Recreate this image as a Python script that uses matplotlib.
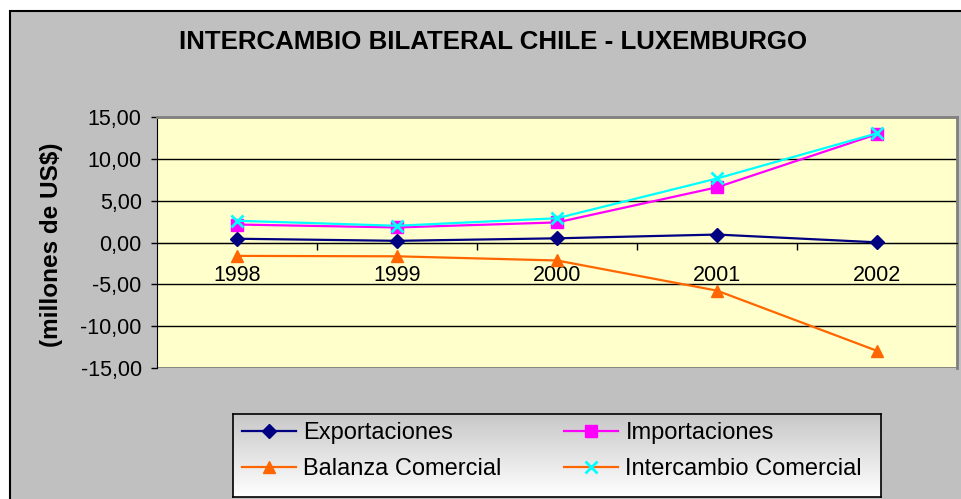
import matplotlib
matplotlib.use("Agg")
import numpy as np
import matplotlib.pyplot as plt
from matplotlib.lines import Line2D
from matplotlib.patches import Rectangle
from matplotlib.ticker import FuncFormatter, FixedLocator

plt.rcParams['font.family'] = ['Liberation Sans', 'DejaVu Sans']

# datos (millones de US$)
anios = ["1998", "1999", "2000", "2001", "2002"]
exportaciones = [0.45, 0.20, 0.50, 0.95, 0.02]
importaciones = [2.15, 1.80, 2.40, 6.60, 12.95]
balanza = [-1.60, -1.65, -2.15, -5.75, -12.95]
intercambio = [2.60, 2.00, 2.90, 7.65, 13.05]

c_exp = "#000080"
c_imp = "#FF00FF"
c_bal = "#FF6600"
c_int = "#00FFFF"

W, H = 962, 499
fig = plt.figure(figsize=(W / 100, H / 100), dpi=100)
fig.patch.set_facecolor("white")

# fondo gris del grafico
fondo = Rectangle((10 / W, -0.1), 1.2, 1.1 - 11 / H, transform=fig.transFigure,
                  facecolor="#C0C0C0", edgecolor="black", linewidth=1.5, zorder=-10)
fig.patches.append(fondo)

fig.text(493 / W, 1 - 42 / H, "INTERCAMBIO BILATERAL CHILE - LUXEMBURGO",
         ha="center", va="center", fontsize=18.6, fontweight="bold")
fig.text(52 / W, 1 - 245 / H, "(millones de US$)", rotation=90,
         ha="center", va="center", fontsize=17.5, fontweight="bold")

ax = fig.add_axes([157 / W, 1 - 368 / H, 800 / W, 251 / H])
ax.set_facecolor("#FFFFCC")
x = np.arange(len(anios))

ax.plot(x, exportaciones, color=c_exp, lw=1.6, marker="D", ms=7.5, zorder=5)
ax.plot(x, importaciones, color=c_imp, lw=1.6, marker="s", ms=8.5, zorder=5)
ax.plot(x, balanza, color=c_bal, lw=1.6, marker="^", ms=9, zorder=5)
ax.plot(x, intercambio, color=c_int, lw=1.6, marker="x", ms=9, mew=2, zorder=6)

ax.set_xlim(-0.5, len(anios) - 0.5)
ax.set_ylim(-15, 15)
ax.set_yticks(np.arange(-15, 16, 5))
ax.yaxis.set_major_formatter(FuncFormatter(lambda v, p: f"{v:.2f}".replace(".", ",")))
ax.tick_params(axis="y", labelsize=15.5, length=4, width=1, direction="out", pad=7)
ax.grid(axis="y", color="black", lw=1)
ax.set_axisbelow(True)

ax.spines["bottom"].set_position(("data", 0))
ax.spines["bottom"].set_color("black")
ax.spines["left"].set_color("black")
ax.spines["top"].set_color("#808080")
ax.spines["right"].set_color("#808080")
ax.spines["top"].set_linewidth(2)
ax.spines["right"].set_linewidth(2)

# borde inferior gris del area de trazado
ax.axhline(-15, color="#808080", lw=2, zorder=1)

ax.set_xticks(x)
ax.set_xticklabels(anios)
ax.tick_params(axis="x", which="major", length=0, pad=16, labelsize=15.5)
ax.xaxis.set_minor_locator(FixedLocator(x[:-1] + 0.5))
ax.tick_params(axis="x", which="minor", length=5, width=1, direction="out")

# leyenda con fondo degradado
axl = fig.add_axes([233 / W, 1 - 497 / H, 648 / W, 83 / H])
grad = np.linspace(0, 1, 100).reshape(-1, 1)
axl.imshow(grad, cmap=matplotlib.colors.LinearSegmentedColormap.from_list("g", ["#C8C8C8", "#FFFFFF"]),
           aspect="auto", extent=[0, 1, 0, 1], origin="upper")
axl.set_xlim(0, 1)
axl.set_ylim(0, 1)
axl.set_xticks([])
axl.set_yticks([])
for s in axl.spines.values():
    s.set_color("black")
    s.set_linewidth(1.2)

h_exp = Line2D([], [], color=c_exp, lw=1.6, marker="D", ms=7)
h_bal = Line2D([], [], color=c_bal, lw=1.6, marker="^", ms=9)
h_imp = Line2D([], [], color=c_imp, lw=1.6, marker="s", ms=8.5)
h_int = Line2D([], [], color=c_bal, lw=1.6, marker="x", ms=9, mew=2, markeredgecolor=c_int)

estilo = dict(loc="upper left", frameon=False, fontsize=17, handlelength=2.3,
              handletextpad=0.3, labelspacing=0.6, borderpad=0, borderaxespad=0)
fig.legend([h_exp, h_bal], ["Exportaciones", "Balanza Comercial"],
           bbox_to_anchor=(242 / W, 1 - 422 / H), **estilo)
fig.legend([h_imp, h_int], ["Importaciones", "Intercambio Comercial"],
           bbox_to_anchor=(564 / W, 1 - 422 / H), **estilo)

fig.savefig("out.png", dpi=100)
